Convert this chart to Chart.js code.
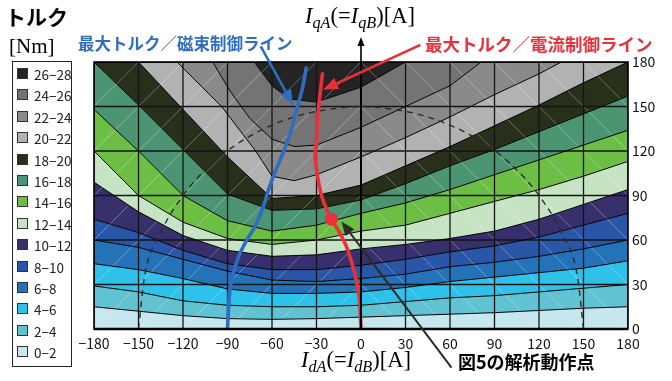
<!DOCTYPE html>
<html>
<head>
<meta charset="utf-8">
<script src="https://cdn.jsdelivr.net/npm/chart.js@4.4.0/dist/chart.umd.min.js"></script>
<style>
  html, body { margin: 0; padding: 0; background: #fff; }
  #wrap { position: relative; width: 672px; height: 381px; overflow: hidden;
          font-family: "Noto Sans CJK JP", "Noto Sans", sans-serif; }
  #c { position: absolute; left: 0; top: 0; }
  .txt { position: absolute; white-space: nowrap; line-height: 1; }
  .serif { font-family: "Liberation Serif", "DejaVu Serif", serif; }
  .serif i { font-style: italic; }
  .serif .sb { font-size: 72%; font-style: italic; position: relative; top: 0.3em; }
  #legend { position: absolute; left: 12px; top: 61px; width: 58px; height: 304px;
            border: 1.5px solid #222; background: #fff; }
  .li { position: absolute; left: 4px; height: 14px; font-size: 13.5px; color: #222; }
  .li span.sw { position: absolute; left: 0; top: 2px; width: 9px; height: 9px;
                border: 1px solid #333; }
  .li span.lb { position: absolute; left: 17px; top: -2px; }
</style>
</head>
<body>
<div id="wrap">
  <canvas id="c" width="672" height="381"></canvas>

  <div class="txt" style="left:5px; top:6px; font-size:21px; font-weight:bold; color:#000;">トルク</div>
  <div class="txt serif" style="left:9px; top:36px; font-size:21px; color:#000;">[Nm]</div>
  <div id="legend"></div>

  <div class="txt" style="left:78px; top:35px; font-size:16.5px; font-weight:bold; color:#2f6dc0;">最大トルク／磁束制御ライン</div>
  <div class="txt" style="left:425px; top:35px; font-size:17.5px; font-weight:bold; color:#e8313a;">最大トルク／電流制御ライン</div>

  <div class="txt serif" style="left:305px; top:5px; font-size:22.5px; color:#000;"><i>I</i><span class="sb">qA</span>(=<i>I</i><span class="sb">qB</span>)[A]</div>
  <div class="txt serif" style="left:301px; top:349px; font-size:22.5px; color:#000;"><i>I</i><span class="sb">dA</span>(=<i>I</i><span class="sb">dB</span>)[A]</div>
  <div class="txt" style="left:458px; top:352px; font-size:18px; font-weight:bold; color:#000;">図5の解析動作点</div>
</div>

<script>
// ---- axis ticks ----
const xTickValues = [-180, -150, -120, -90, -60, -30, 0, 30, 60, 90, 120, 150, 180];
const yTickValues = [0, 30, 60, 90, 120, 150, 180];

// ---- torque bands (lowest first) ----
const bandLabels = ['0−2', '2−4', '4−6', '6−8', '8−10', '10−12', '12−14',
                    '14−16', '16−18', '18−20', '20−22', '22−24', '24−26', '26−28'];
const bandColors = ['#c6e7ed', '#61c3d1', '#2ec1e9', '#2473b9', '#2a56a7', '#37306c', '#c6e4c4',
                    '#6cbe45', '#4b9573', '#282f1b', '#b2b2b2', '#8a8a8a', '#747474', '#242424'];

// ---- iso-torque boundaries [Id, Iq] ----
const iso2  = [[-180,15],[-150,12],[-120,9],[-90,7],[-60,6.5],[-30,7],[0,8],[30,9],[60,10],[90,11],[120,12.5],[150,14],[180,15]];
const iso4  = [[-180,29],[-150,25],[-120,19],[-90,16],[-60,15],[-30,15],[0,16],[30,18.5],[60,21],[90,22.5],[120,25],[150,27.5],[180,30]];
const iso6  = [[-180,44],[-150,40],[-120,34],[-90,27],[-60,24],[-30,24],[0,25],[30,28],[60,32],[90,35],[120,38],[150,41],[180,46]];
const iso8  = [[-180,60],[-150,55],[-120,47],[-90,39],[-60,33],[-30,32],[0,34],[30,37],[60,42],[90,45],[120,49],[150,54],[180,60]];
const iso10 = [[-180,74],[-150,65],[-120,53],[-90,44],[-60,40],[-30,40],[0,43],[30,47],[60,52],[90,56],[120,62],[150,70],[180,78]];
const iso12 = [[-180,99],[-150,79],[-120,63],[-90,53],[-60,49],[-30,50],[0,54],[30,57],[60,61],[90,66],[120,74],[150,84],[180,94]];
const iso14 = [[-180,120],[-150,90],[-120,72],[-90,61],[-60,57],[-30,60],[0,66],[30,70],[60,78],[90,86],[120,94],[150,103],[180,113]];
const iso16 = [[-180,148],[-150,120],[-120,90],[-90,73],[-60,66],[-30,70],[0,78],[30,85],[60,94],[90,104],[120,114],[150,124],[180,134]];
const iso18 = [[-180,180],[-150,151],[-120,121],[-90,91],[-60,80],[-30,81],[0,87],[30,98],[60,110],[90,121],[120,133],[150,145],[180,157]];
const iso20 = [[-180,180],[-150,180],[-120,148],[-90,116],[-60,88],[-30,90],[0,97],[30,110],[60,123],[90,137],[120,151],[150,166],[180,180]];
const iso22 = [[-180,180],[-124,180],[-94,150],[-71,120],[-60,103],[-45,100],[-30,104],[0,116],[30,129],[60,143],[90,158],[120,172],[135,180],[180,180]];
const iso24 = [[-180,180],[-100,180],[-88,160],[-75,142],[-60,128],[-45,123],[-30,124],[0,136],[30,150],[60,164],[81,180],[180,180]];
const iso26 = [[-180,180],[-72,180],[-60,164],[-48,155],[-30,153],[0,163],[30,180],[180,180]];

// ---- control lines and operating point [Id, Iq] ----
const maxTorquePerCurrent = [[0,0],[-0.5,10],[-1,20],[-3,32],[-6,44],[-10,56],[-15,66],[-20,74],[-25,85],
                             [-28,96],[-30,108],[-31,116],[-30,126],[-29.5,140],[-28,155],[-26,172]];
const maxTorquePerFlux    = [[-90,0],[-89.5,10],[-88.5,25],[-86,38],[-82,50],[-77,60],[-71,70],[-66,82],
                             [-62,95],[-57,108],[-52,120],[-47,134],[-43.5,148],[-40,160],[-38,170],[-37,176]];
const currentLimit        = [[-150,0],[-146,35],[-135,65],[-120,90],[-100,112],[-75,130],[-45,143],[-15,149],
                             [0,150],[15,149],[45,143],[75,130],[100,112],[120,90],[135,65],[146,35],[150,0]];
const operatingPoint      = [[-20,74]];

// arrows: [fromId, fromIq, toId, toIq]
const arrowFlux    = [-67.6, 190.5, -45.8, 151.2];
const arrowCurrent = [40, 191.5, -25.6, 161.3];
const arrowPoint   = [61, -26, -13.2, 72.5];

const isoLines = [iso2, iso4, iso6, iso8, iso10, iso12, iso14, iso16, iso18, iso20, iso22, iso24, iso26];
const toXY = arr => arr.map(p => ({x: p[0], y: p[1]}));
const minus = v => (v < 0 ? '−' + Math.abs(v) : String(v));

// legend (highest band on top)
const legend = document.getElementById('legend');
for (let i = bandLabels.length - 1, row = 0; i >= 0; i--, row++) {
  const d = document.createElement('div');
  d.className = 'li';
  d.style.top = (4 + row * 21.4) + 'px';
  d.innerHTML = '<span class="sw" style="background:' + bandColors[i] + '"></span><span class="lb">' + bandLabels[i] + '</span>';
  legend.appendChild(d);
}

const datasets = [];
datasets.push({ data: toXY([[-180,0],[180,0]]), borderWidth: 0, fill: false, order: 10, clip: 0 });
isoLines.forEach((ln, k) => {
  datasets.push({ data: toXY(ln), borderColor: '#000', borderWidth: 1, backgroundColor: bandColors[k],
                  fill: '-1', tension: 0, order: 10, clip: 0 });
});
datasets.push({ data: toXY([[-180,180],[180,180]]), borderWidth: 0, backgroundColor: bandColors[13],
                fill: '-1', order: 10, clip: 0 });
datasets.push({ data: toXY(currentLimit), borderColor: '#2a2a2a', borderWidth: 1.4, borderDash: [6, 5],
                cubicInterpolationMode: 'monotone', fill: false, order: 3, clip: 0 });
datasets.push({ data: toXY(maxTorquePerFlux), borderColor: '#2f6dc0', borderWidth: 3.6, tension: 0.35,
                fill: false, order: 2, clip: 0, borderCapStyle: 'round' });
datasets.push({ data: toXY(maxTorquePerCurrent), borderColor: '#ea3039', borderWidth: 3.6, tension: 0.35,
                fill: false, order: 1, clip: 0, borderCapStyle: 'round' });
datasets.push({ data: toXY(operatingPoint), showLine: false, pointRadius: 6.5, pointBackgroundColor: '#ea3039',
                pointBorderWidth: 0, order: 0, clip: false });

function drawArrow(ctx, x1, y1, x2, y2, color, lw, len, wid) {
  const a = Math.atan2(y2 - y1, x2 - x1);
  const bx = x2 - len * Math.cos(a), by = y2 - len * Math.sin(a);
  ctx.strokeStyle = color; ctx.lineWidth = lw; ctx.lineCap = 'butt';
  ctx.beginPath(); ctx.moveTo(x1, y1); ctx.lineTo(bx, by); ctx.stroke();
  ctx.fillStyle = color;
  ctx.beginPath();
  ctx.moveTo(x2, y2);
  ctx.lineTo(bx + wid / 2 * Math.sin(a), by - wid / 2 * Math.cos(a));
  ctx.lineTo(bx - wid / 2 * Math.sin(a), by + wid / 2 * Math.cos(a));
  ctx.closePath(); ctx.fill();
}

const frame = {
  id: 'frame',
  beforeDatasetsDraw(chart) {
    const { ctx, chartArea: a, scales: { x, y } } = chart;
    ctx.save();
    ctx.beginPath(); ctx.rect(a.left, a.top, a.right - a.left, a.bottom - a.top); ctx.clip();
    // mesh diagonals
    ctx.strokeStyle = 'rgba(255,255,255,0.45)'; ctx.lineWidth = 0.7;
    for (let i = 0; i < xTickValues.length - 1; i++) {
      for (let j = 0; j < yTickValues.length - 1; j++) {
        const x0 = xTickValues[i], x1 = xTickValues[i + 1], y0 = yTickValues[j], y1 = yTickValues[j + 1];
        ctx.beginPath();
        if (x1 <= 0) { ctx.moveTo(x.getPixelForValue(x0), y.getPixelForValue(y0)); ctx.lineTo(x.getPixelForValue(x1), y.getPixelForValue(y1)); }
        else { ctx.moveTo(x.getPixelForValue(x0), y.getPixelForValue(y1)); ctx.lineTo(x.getPixelForValue(x1), y.getPixelForValue(y0)); }
        ctx.stroke();
      }
    }
    // grid
    ctx.strokeStyle = '#141414'; ctx.lineWidth = 1.3;
    xTickValues.forEach(v => { const p = x.getPixelForValue(v); ctx.beginPath(); ctx.moveTo(p, a.top); ctx.lineTo(p, a.bottom); ctx.stroke(); });
    yTickValues.forEach(v => { const p = y.getPixelForValue(v); ctx.beginPath(); ctx.moveTo(a.left, p); ctx.lineTo(a.right, p); ctx.stroke(); });
    ctx.restore();
  },
  afterDatasetsDraw(chart) {
    const { ctx, chartArea: a, scales: { x, y } } = chart;
    ctx.save();
    ctx.strokeStyle = '#000';
    ctx.lineWidth = 1.6; ctx.strokeRect(a.left, a.top, a.right - a.left, a.bottom - a.top);
    ctx.lineWidth = 2.6; ctx.beginPath(); ctx.moveTo(a.left, a.bottom); ctx.lineTo(a.right, a.bottom); ctx.stroke();
    const x0 = x.getPixelForValue(0);
    ctx.lineWidth = 2; ctx.beginPath(); ctx.moveTo(x0, a.bottom); ctx.lineTo(x0, a.top); ctx.stroke();
    drawArrow(ctx, x0, a.top, x0, a.top - 25, '#000', 1.6, 9, 7);
    const P = arr => [x.getPixelForValue(arr[0]), y.getPixelForValue(arr[1]), x.getPixelForValue(arr[2]), y.getPixelForValue(arr[3])];
    drawArrow(ctx, ...P(arrowFlux), '#2f6dc0', 2.6, 15, 12);
    drawArrow(ctx, ...P(arrowCurrent), '#ea3039', 2.6, 15, 12);
    drawArrow(ctx, ...P(arrowPoint), '#2b2b2b', 2, 14, 11);
    ctx.restore();
  }
};

new Chart(document.getElementById('c'), {
  type: 'line',
  data: { datasets },
  options: {
    responsive: false, animation: false, devicePixelRatio: 1,
    layout: { padding: { left: 94, top: 62, right: 0, bottom: 0 } },
    elements: { point: { radius: 0 } },
    plugins: { legend: { display: false }, tooltip: { enabled: false },
               filler: { drawTime: 'beforeDatasetsDraw' } },
    scales: {
      x: { type: 'linear', position: 'bottom', min: -180, max: 180,
           grid: { display: false, drawTicks: false }, border: { display: false },
           afterBuildTicks: s => { s.ticks = xTickValues.map(v => ({ value: v })); },
           ticks: { padding: 6, color: '#111', maxRotation: 0, autoSkip: false,
                    font: { size: 14, family: '"Noto Sans CJK JP", sans-serif' }, callback: v => minus(v) },
           afterFit: s => { s.height = 52; } },
      y: { type: 'linear', position: 'right', min: 0, max: 180,
           grid: { display: false, drawTicks: false }, border: { display: false },
           afterBuildTicks: s => { s.ticks = yTickValues.map(v => ({ value: v })); },
           ticks: { padding: 4, color: '#111', autoSkip: false,
                    font: { size: 14, family: '"Noto Sans CJK JP", sans-serif' }, callback: v => minus(v) },
           afterFit: s => { s.width = 44; } }
    }
  },
  plugins: [frame]
});
</script>
</body>
</html>
